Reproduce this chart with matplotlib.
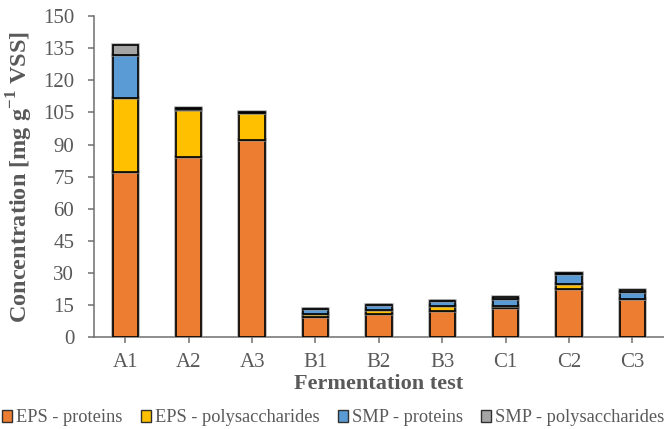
import matplotlib
matplotlib.use("Agg")
import matplotlib.pyplot as plt
import matplotlib.patheffects as pe
from matplotlib.patches import Patch
import numpy as np

plt.rcParams['font.family'] = ['Liberation Serif', 'DejaVu Serif']
plt.rcParams['mathtext.fontset'] = 'custom'
plt.rcParams['mathtext.rm'] = 'Liberation Serif'
plt.rcParams['mathtext.bf'] = 'Liberation Serif:bold'

tests = ["A1", "A2", "A3", "B1", "B2", "B3", "C1", "C2", "C3"]
eps_proteins = [77.0, 84.0, 92.0, 9.7, 11.1, 12.5, 13.9, 22.5, 17.7]
eps_polysaccharides = [34.8, 22.0, 12.6, 1.0, 1.8, 2.0, 0.6, 2.2, 0.4]
smp_proteins = [20.2, 0.5, 0.2, 2.5, 2.2, 2.3, 3.3, 4.7, 3.0]
smp_polysaccharides = [4.5, 0.4, 0.2, 0.2, 0.2, 0.2, 1.0, 0.7, 0.8]

series = [
    ("EPS - proteins", eps_proteins, "#ED7D31"),
    ("EPS - polysaccharides", eps_polysaccharides, "#FFC000"),
    ("SMP - proteins", smp_proteins, "#5B9BD5"),
    ("SMP - polysaccharides", smp_polysaccharides, "#A5A5A5"),
]

text_col = "#595959"
axis_col = "#6F6F6F"

fig = plt.figure(figsize=(6.64, 4.29), dpi=100)
ax = fig.add_axes([0.1411, 0.2137, 0.8589, 0.7490])

x = np.arange(len(tests))
bottom = np.zeros(len(tests))
halo = [pe.Stroke(linewidth=2.6, foreground="#909090", alpha=0.7), pe.Normal()]
for name, vals, col in series:
    v = np.array(vals)
    bars = ax.bar(x, v, 0.40, bottom=bottom, color=col, edgecolor="black",
                  linewidth=1.2, label=name, zorder=3)
    for b in bars:
        b.set_path_effects(halo)
    bottom += v

ax.set_xlim(-0.5, len(tests) - 0.5)
ax.set_ylim(0, 150)
ax.set_yticks(np.arange(0, 151, 15))
ax.set_xticks(x)
ax.set_xticklabels(tests)

for s in ("top", "right"):
    ax.spines[s].set_visible(False)
for s in ("left", "bottom"):
    ax.spines[s].set_color(axis_col)
    ax.spines[s].set_linewidth(1.1)

ax.tick_params(axis="both", colors=axis_col, labelcolor=text_col,
               labelsize=15, length=4.5, width=1.1, direction="out")
ax.tick_params(axis="y", pad=9.5)
ax.tick_params(axis="x", pad=6.5)

ax.set_ylabel(r"Concentration [mg g$^{\mathbf{-1}}$ VSS]", fontsize=17.5,
              fontweight="bold", color=text_col, labelpad=6)
ax.set_xlabel("Fermentation test", fontsize=16, fontweight="bold",
              color=text_col, labelpad=2)

handles = [Patch(facecolor=col, edgecolor="#303030", linewidth=1.0, label=name)
           for name, _, col in series]
fig.legend(handles=handles, loc="center", bbox_to_anchor=(0.502, 1 - 418 / 429),
           ncol=4, frameon=False, fontsize=13.2, labelcolor=text_col,
           handlelength=0.55, handleheight=0.55, handletextpad=0.22,
           columnspacing=1.0, borderpad=0, borderaxespad=0)

fig.savefig("out.png", dpi=100)
